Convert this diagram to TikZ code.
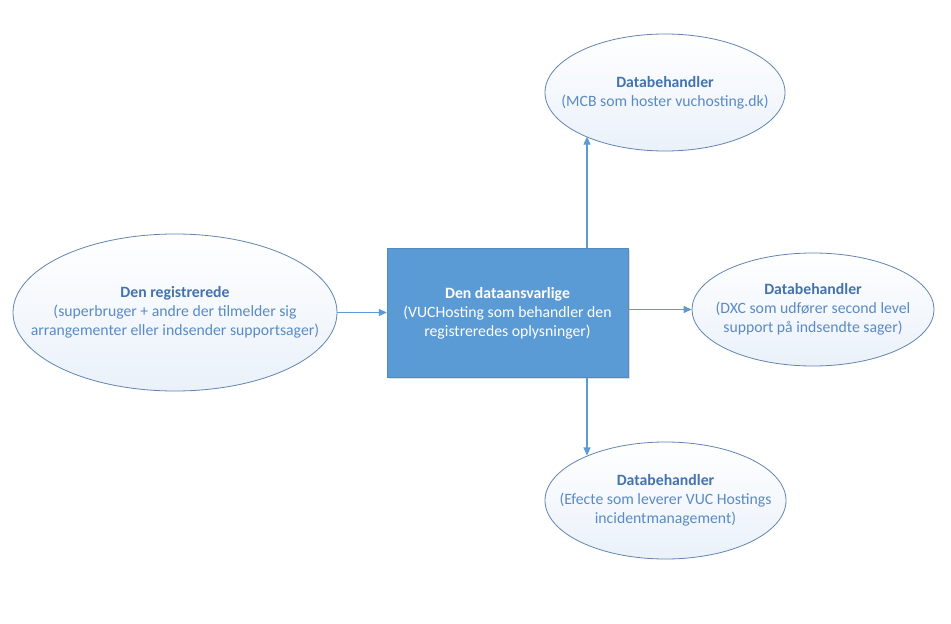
\documentclass[tikz,border=0pt]{standalone}
\usepackage{fontspec}
\setmainfont{Carlito}
\usetikzlibrary{shapes.geometric,arrows.meta,shadows}
\definecolor{boxblue}{HTML}{5B9BD5}
\definecolor{ellline}{HTML}{6385B0}
\definecolor{titleblue}{HTML}{4373AE}
\definecolor{bodyblue}{HTML}{5A8AC4}
\definecolor{ellfill}{HTML}{EAF1FA}
\tikzset{
  ell/.style={ellipse, draw=ellline, line width=0.8bp, inner sep=0pt,
    top color=white, bottom color=ellfill},
  elltext/.style={align=center, text=bodyblue, inner sep=0pt,
    font=\fontsize{15.8}{19}\selectfont},
  mainbox/.style={rectangle, fill=boxblue, draw=boxblue!90!black, line width=0.4bp,
    minimum width=241bp, minimum height=129bp, inner sep=0pt, align=center,
    text=white, font=\fontsize{15.8}{19}\selectfont,
    drop shadow={shadow xshift=1.5bp, shadow yshift=-1.5bp, opacity=0.25, fill=gray}},
  conn/.style={draw=boxblue, line width=1.1bp, -{Triangle[length=8bp,width=7bp]}},
}
\newcommand{\ttl}[1]{{\bfseries\color{titleblue}#1}}
\begin{document}
\begin{tikzpicture}[x=1bp,y=-1bp]
\useasboundingbox[fill=white] (0,0) rectangle (951,624);
\node[mainbox] (dc) at (507.5,313) {{\bfseries Den dataansvarlige}\\(VUCHosting som behandler den\\registreredes oplysninger)};
\node[ell, minimum width=324bp, minimum height=157bp] (reg) at (175,312.5) {};
\node[elltext] (regt) at (reg.center)
  {\ttl{Den registrerede}\\(superbruger + andre der tilmelder sig\\arrangementer eller indsender supportsager)};
\node[ell, minimum width=240bp, minimum height=117bp] (mcb) at (665,92.5) {};
\node[elltext] (mcbt) at (mcb.center)
  {\ttl{Databehandler}\\(MCB som hoster vuchosting.dk)};
\node[ell, minimum width=242bp, minimum height=113bp] (dxc) at (813,309.5) {};
\node[elltext] (dxct) at (dxc.center)
  {\ttl{Databehandler}\\(DXC som udfører second level\\support på indsendte sager)};
\node[ell, minimum width=241bp, minimum height=117bp] (eff) at (665.5,500.5) {};
\node[elltext] (efft) at (eff.center)
  {\ttl{Databehandler}\\(Efecte som leverer VUC Hostings\\incidentmanagement)};
\coordinate (tx) at (587,0);
\draw[conn] (reg.east) -- (reg.east -| dc.west);
\draw[conn] (dc.east |- dxc.west) -- (dxc.west);
\draw[conn] (dc.north -| tx) -- (tx |- mcb.209.7);
\draw[conn] (dc.south -| tx) -- (tx |- eff.150.5);
\end{tikzpicture}
\end{document}
